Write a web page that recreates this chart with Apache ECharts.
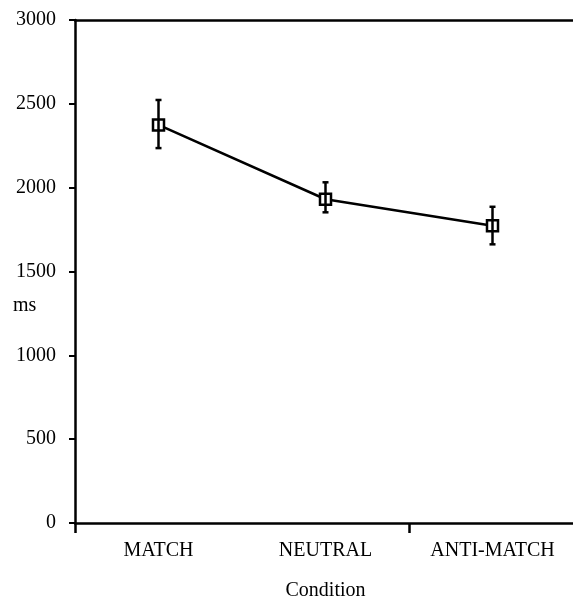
<!DOCTYPE html>
<html>
<head>
<meta charset="utf-8">
<script src="https://cdn.jsdelivr.net/npm/echarts@6/dist/echarts.min.js"></script>
<style>
html,body{margin:0;padding:0;background:#fff;}
#chart{width:573px;height:597px;}
</style>
</head>
<body>
<div id="chart"></div>
<script>
const categories = ['MATCH', 'NEUTRAL', 'ANTI-MATCH'];
const meanMs = [2374, 1931, 1773];
const lowerMs = [2236, 1853, 1662];
const upperMs = [2523, 2032, 1886];
const yTicks = [0, 500, 1000, 1500, 2000, 2500, 3000];

const FONT = 'Liberation Serif';
const chart = echarts.init(document.getElementById('chart'));

const errData = categories.map((c, i) => [i, lowerMs[i], upperMs[i]]);

chart.setOption({
  backgroundColor: '#fff',
  animation: false,
  textStyle: { fontFamily: FONT, color: '#000' },
  grid: { left: 75, right: -3, top: 20, bottom: 74, containLabel: false, outerBoundsMode: 'none' },
  xAxis: [{
    type: 'category',
    data: categories,
    boundaryGap: true,
    position: 'bottom',
    axisLine: { lineStyle: { color: '#000', width: 2.5 } },
    axisTick: {
      show: true, length: 10, inside: false,
      lineStyle: { color: '#000', width: 2.5 },
      interval: function (index) { return index === 0 || index === 2; }
    },
    axisLabel: { fontFamily: FONT, fontSize: 20, color: '#000', margin: 18 },
    name: 'Condition',
    nameLocation: 'middle',
    nameGap: 58,
    nameTextStyle: { fontFamily: FONT, fontSize: 20, color: '#000' },
    splitLine: { show: false }
  }, {
    type: 'category',
    data: categories,
    position: 'top',
    axisLine: { show: true, lineStyle: { color: '#000', width: 2.5 } },
    axisTick: { show: false },
    axisLabel: { show: false },
    splitLine: { show: false }
  }],
  yAxis: {
    type: 'value',
    min: yTicks[0],
    max: yTicks[yTicks.length - 1],
    interval: 500,
    axisLine: { show: true, lineStyle: { color: '#000', width: 2.5 } },
    axisTick: { show: true, length: 6, lineStyle: { color: '#000', width: 2 } },
    axisLabel: {
      fontFamily: FONT, fontSize: 20, color: '#000', margin: 19,
      formatter: function (v) { return String(v); }
    },
    splitLine: { show: false }
  },
  graphic: [{
    type: 'text',
    left: 13,
    top: 296,
    style: { text: 'ms', fontFamily: FONT, fontSize: 20, fill: '#000' }
  }],
  series: [{
    type: 'line',
    data: meanMs,
    symbol: 'rect',
    symbolSize: 11,
    lineStyle: { color: '#000', width: 2.5 },
    itemStyle: { color: '#fff', borderColor: '#000', borderWidth: 2.5 },
    z: 2
  }, {
    type: 'custom',
    data: errData,
    z: 3,
    renderItem: function (params, api) {
      const x = api.value(0);
      const lo = api.coord([x, api.value(1)]);
      const hi = api.coord([x, api.value(2)]);
      const cw = 3;
      const st = { stroke: '#000', lineWidth: 2.5 };
      return {
        type: 'group',
        children: [
          { type: 'line', shape: { x1: hi[0], y1: hi[1], x2: lo[0], y2: lo[1] }, style: st },
          { type: 'line', shape: { x1: hi[0] - cw, y1: hi[1], x2: hi[0] + cw, y2: hi[1] }, style: st },
          { type: 'line', shape: { x1: lo[0] - cw, y1: lo[1], x2: lo[0] + cw, y2: lo[1] }, style: st }
        ]
      };
    }
  }]
});
</script>
</body>
</html>
